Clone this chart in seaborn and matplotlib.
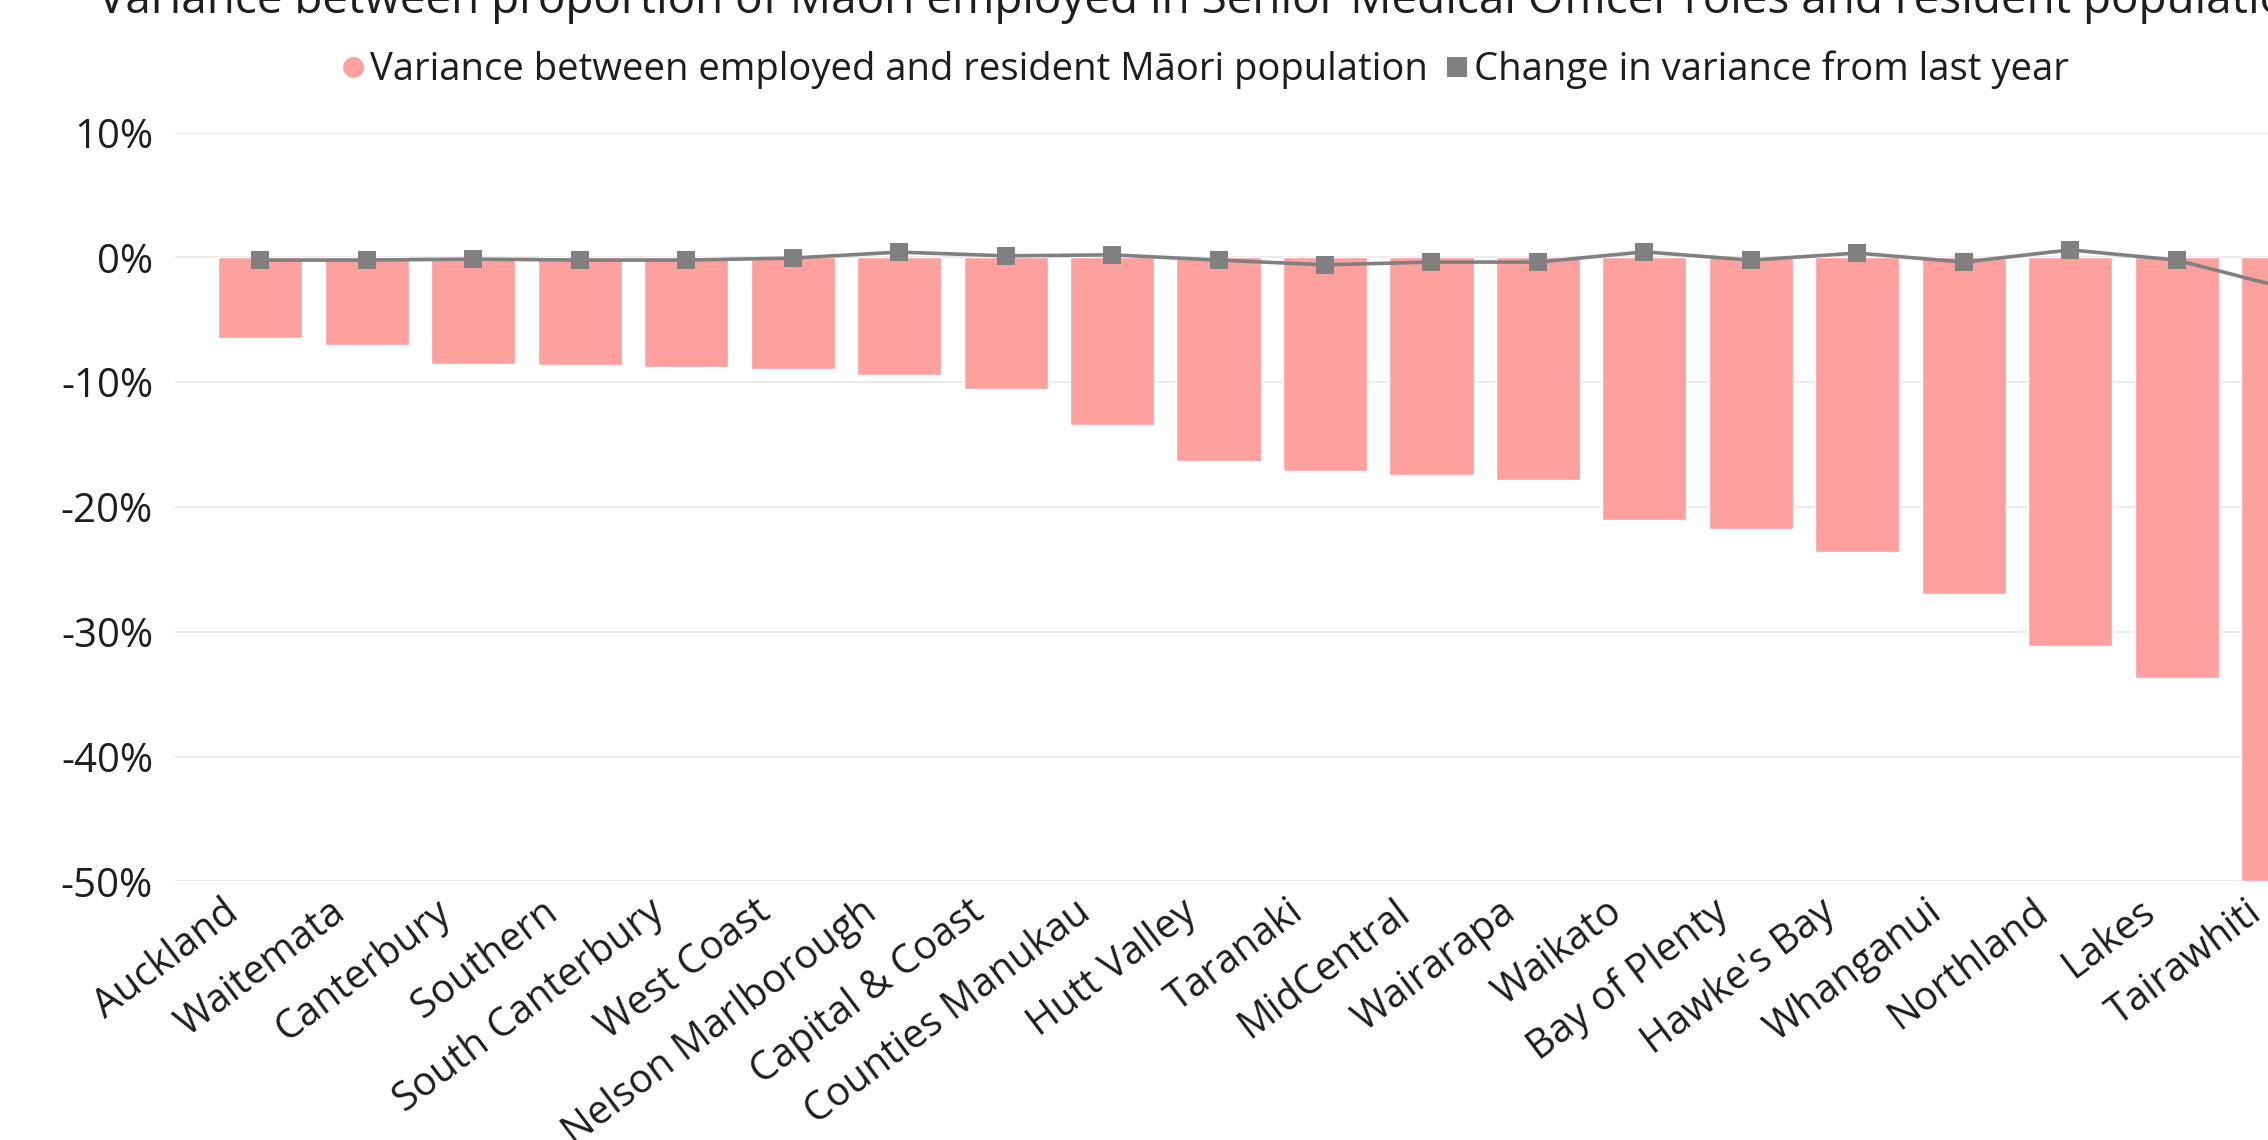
import numpy as np
import pandas as pd
import matplotlib
matplotlib.use("Agg")
import matplotlib.pyplot as plt
from matplotlib.lines import Line2D
from matplotlib.ticker import FuncFormatter
from matplotlib.transforms import ScaledTranslation
import seaborn as sns

# District health boards, ordered by size of the gap
regions = ["Auckland", "Waitemata", "Canterbury", "Southern", "South Canterbury",
           "West Coast", "Nelson Marlborough", "Capital & Coast", "Counties Manukau",
           "Hutt Valley", "Taranaki", "MidCentral", "Wairarapa", "Waikato",
           "Bay of Plenty", "Hawke's Bay", "Whanganui", "Northland", "Lakes", "Tairawhiti"]

# Variance between employed and resident Māori population (fraction)
variance = [-0.0645, -0.0704, -0.0856, -0.0864, -0.0880, -0.0896, -0.0944, -0.1056,
            -0.1346, -0.1630, -0.1715, -0.1742, -0.1787, -0.2107, -0.2180, -0.2359,
            -0.2700, -0.3112, -0.3374, -0.5000]

# Change in variance from last year (fraction)
change = [-0.0021, -0.0021, -0.0013, -0.0021, -0.0021, -0.0005, 0.0043, 0.0013,
          0.0021, -0.0021, -0.0059, -0.0037, -0.0037, 0.0045, -0.0021, 0.0035,
          -0.0037, 0.0061, -0.0021, -0.0240]

y_ticks = [0.10, 0.0, -0.10, -0.20, -0.30, -0.40, -0.50]

title = ("Variance between proportion of Māori employed in Senior Medical Officer "
         "roles and resident population")
bar_label = "Variance between employed and resident Māori population"
line_label = "Change in variance from last year"

df = pd.DataFrame({"region": regions, "variance": variance, "change": change})

BAR_COLOR = "#FDA09E"
LINE_COLOR = "#808080"
TEXT_COLOR = "#1E1E1E"
GRID_COLOR = "#EBEBEB"

sns.set_theme(style="white")
plt.rcParams["font.family"] = ["Open Sans", "DejaVu Sans"]
plt.rcParams["axes.unicode_minus"] = False

W, H, DPI = 2268, 1140, 100
fig = plt.figure(figsize=(W / DPI, H / DPI), dpi=DPI)

# axes runs past the right edge of the canvas
step = 106.46
left_px = 260.4 - 0.8 * step
ax = fig.add_axes([left_px / W, 1 - 881.3 / H, 20 * step / W, (881.3 - 132.7) / H])

sns.barplot(data=df, x="region", y="variance", order=regions, color=BAR_COLOR,
            width=0.79, saturation=1, ax=ax, zorder=2)
sns.pointplot(data=df, x="region", y="change", order=regions, color=LINE_COLOR,
              markers="s", markersize=13, linewidth=2.6, errorbar=None, ax=ax)
for c in ax.collections:
    c.set_zorder(4)
for ln in ax.lines:
    ln.set_zorder(4)
    ln.set_markeredgewidth(0)

ax.set_xlim(-0.8, 19.2)
ax.set_ylim(-0.5, 0.1)
ax.set_yticks(y_ticks)
ax.yaxis.set_major_formatter(FuncFormatter(lambda v, p: f"{round(v * 100):d}%"))
ax.grid(axis="y", color=GRID_COLOR, linewidth=1.5, zorder=0)
ax.grid(axis="x", visible=False)
ax.set_axisbelow(True)
for s in ax.spines.values():
    s.set_visible(False)
ax.set_xlabel("")
ax.set_ylabel("")
ax.tick_params(axis="y", length=0, pad=16, labelsize=29, labelcolor=TEXT_COLOR)
ax.tick_params(axis="x", length=0, pad=31, labelsize=28.5, labelcolor=TEXT_COLOR)
shift = ScaledTranslation(-14 / DPI, 0, fig.dpi_scale_trans)
for lab in ax.get_xticklabels():
    lab.set_rotation(37)
    lab.set_ha("right")
    lab.set_va("bottom")
    lab.set_rotation_mode("anchor")
    lab.set_transform(lab.get_transform() + shift)

handles = [
    Line2D([], [], linestyle="none", marker="o", markersize=15,
           markerfacecolor=BAR_COLOR, markeredgewidth=0),
    Line2D([], [], linestyle="none", marker="s", markersize=15,
           markerfacecolor=LINE_COLOR, markeredgewidth=0),
]
fig.legend(handles, [bar_label, line_label], ncol=2, loc="center left",
           bbox_to_anchor=(342 / W, 1 - 70 / H), frameon=False, fontsize=27.5,
           handlelength=0.6, handletextpad=0.14, columnspacing=0.45,
           borderpad=0, borderaxespad=0, labelcolor=TEXT_COLOR)

fig.text(98 / W, 1 - 13 / H, title, fontsize=33, color=TEXT_COLOR,
         ha="left", va="baseline")

fig.savefig("out.png", dpi=DPI)
